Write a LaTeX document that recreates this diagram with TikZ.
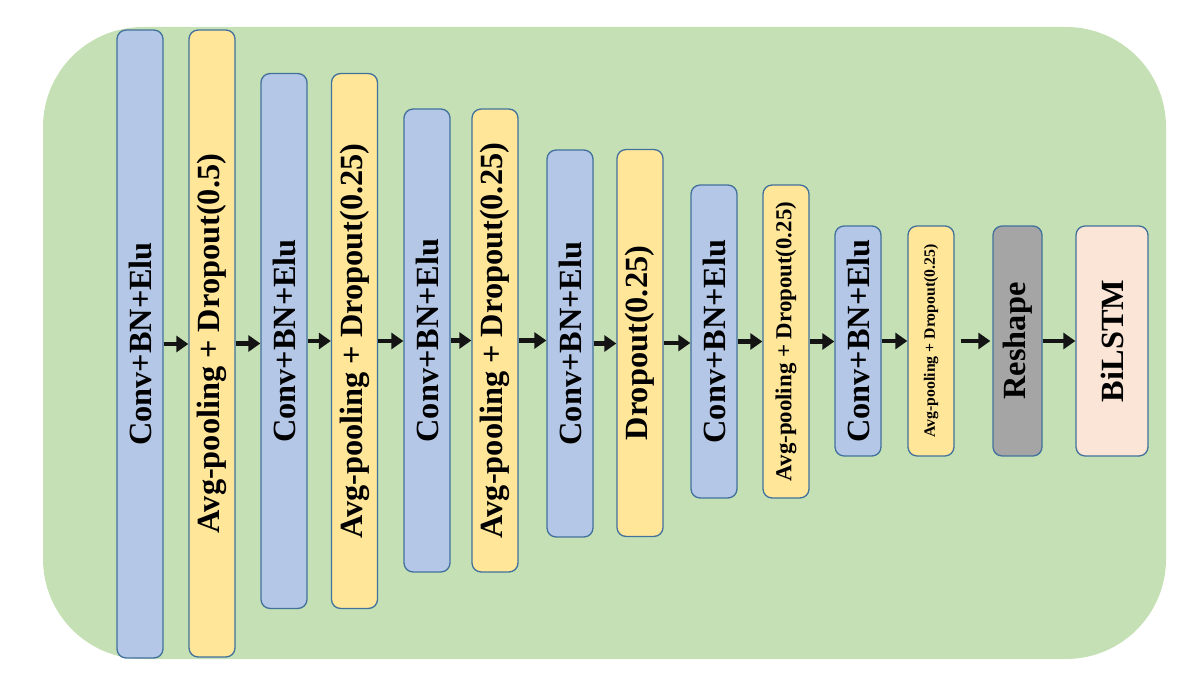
\documentclass[tikz,border=0pt]{standalone}
\usepackage{fontspec}
\usepackage{graphicx}
\setmainfont{Liberation Serif}
\usetikzlibrary{arrows.meta}

\definecolor{bgGreen}{HTML}{C5E0B4}
\definecolor{convBlue}{HTML}{B4C7E7}
\definecolor{poolYellow}{HTML}{FFE699}
\definecolor{reshapeGray}{HTML}{A5A5A5}
\definecolor{lstmPink}{HTML}{FBE5D6}
\definecolor{edgeBlue}{HTML}{41719C}
\definecolor{arrowDark}{HTML}{141414}

\tikzset{
  layer/.style={draw=edgeBlue, line width=0.75pt, rounded corners=0.18cm,
    inner sep=0pt, minimum width=0.92cm, font=\bfseries\fontsize{18.4}{22}\selectfont},
  conv/.style={layer, fill=convBlue},
  pool/.style={layer, fill=poolYellow},
  flow/.style={draw=arrowDark, line width=2.8pt,
    -{Triangle[length=0.24cm,width=0.32cm]}},
}

% label set sideways inside a layer box
\newcommand{\sideways}[1]{\rotatebox{90}{#1}}

\begin{document}
\begin{tikzpicture}[x=0.02cm, y=-0.02cm]
  \useasboundingbox (0,0) rectangle (1200,692);

  % green backdrop
  \fill[bgGreen, rounded corners=2cm] (43,27) rectangle (1166,659);

  % encoder stages
  \node[conv, minimum height=12.56cm] (c1) at (140,344)   {\sideways{Conv+BN+Elu}};
  \node[pool, minimum height=12.54cm] (p1) at (212,343.5) {\sideways{Avg-pooling + Dropout(0.5)}};
  \node[conv, minimum height=10.7cm]  (c2) at (284,341)   {\sideways{Conv+BN+Elu}};
  \node[pool, minimum height=10.7cm]  (p2) at (354.5,341) {\sideways{Avg-pooling + Dropout(0.25)}};
  \node[conv, minimum height=9.26cm]  (c3) at (427,340.5) {\sideways{Conv+BN+Elu}};
  \node[pool, minimum height=9.26cm]  (p3) at (495,340.5) {\sideways{Avg-pooling + Dropout(0.25)}};
  \node[conv, minimum height=7.74cm]  (c4) at (570,343.5) {\sideways{Conv+BN+Elu}};
  \node[pool, minimum height=7.74cm]  (p4) at (640,343)   {\sideways{Dropout(0.25)}};
  \node[conv, minimum height=6.26cm]  (c5) at (714,341.5) {\sideways{Conv+BN+Elu}};
  \node[pool, minimum height=6.26cm, font=\bfseries\fontsize{13}{15}\selectfont]
       (p5) at (786,341.5) {\sideways{Avg-pooling + Dropout(0.25)}};
  \node[conv, minimum height=4.6cm]   (c6) at (858,341)   {\sideways{Conv+BN+Elu}};
  \node[pool, minimum height=4.6cm, font=\bfseries\fontsize{9}{11}\selectfont]
       (p6) at (931,341)   {\sideways{Avg-pooling + Dropout(0.25)}};
  \node[layer, fill=reshapeGray, minimum height=4.6cm, minimum width=0.98cm]
       (rs) at (1017.5,341) {\sideways{Reshape}};
  \node[layer, fill=lstmPink, minimum height=4.6cm, minimum width=1.44cm]
       (bl) at (1112,341)  {\sideways{BiLSTM}};

  % forward connections
  \foreach \a/\b in {c1/p1, p1/c2, c2/p2, p2/c3, c3/p3, p3/c4, c4/p4, p4/c5,
                     c5/p5, p5/c6, c6/p6}
    \draw[flow] (\a.east) -- (\a.east -| \b.west);
  \draw[flow, shorten <=0.12cm, shorten >=0.04cm] (p6.east) -- (p6.east -| rs.west);
  \draw[flow] (rs.east) -- (rs.east -| bl.west);
\end{tikzpicture}
\end{document}
